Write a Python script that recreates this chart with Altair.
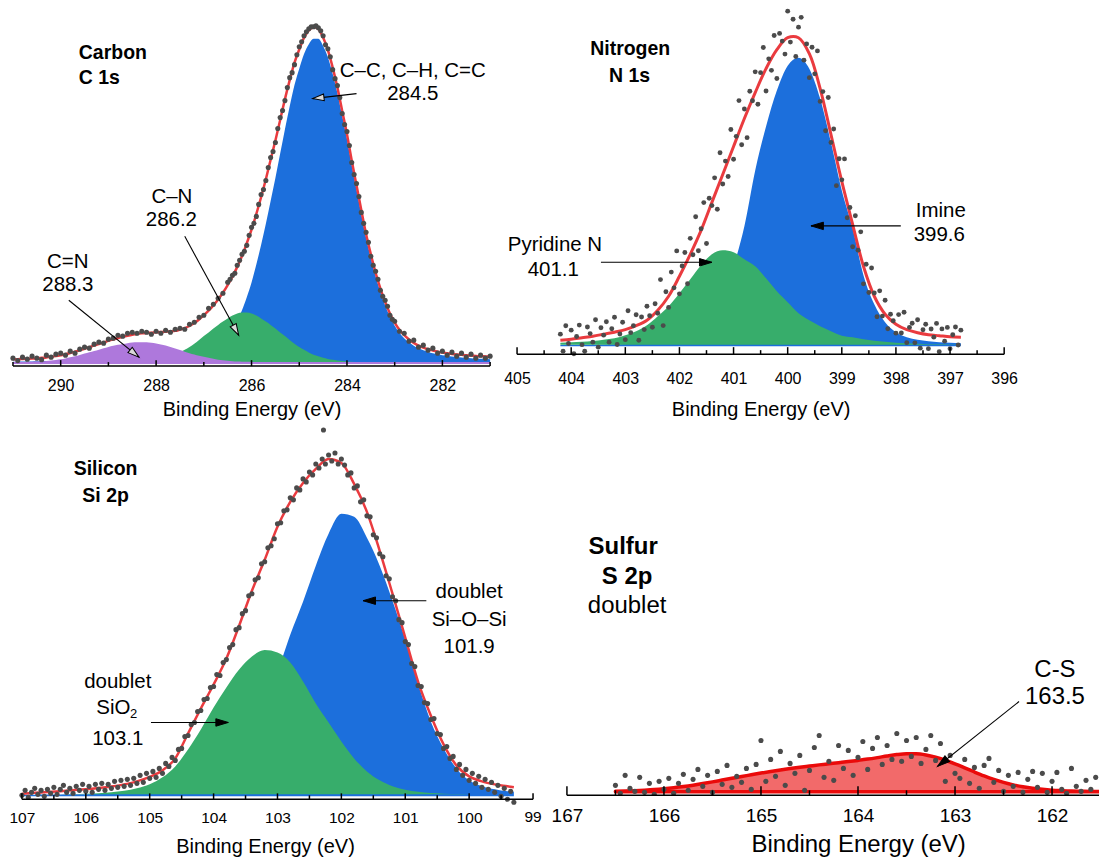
import math
import altair as alt
import pandas as pd

FONT = "Liberation Sans"
BLUE = "#1c6fdc"
GREEN = "#37ad6b"
PURPLE = "#ae78dc"
RED = "#ea3b3f"
DOT = "#4b4b4b"
S_FILL = "#f26a6a"
S_LINE = "#ea0a0a"

# ---------------- Carbon C 1s ----------------
C_E = [291.0, 290.9, 290.8, 290.7, 290.6, 290.5, 290.4, 290.3, 290.2, 290.1,
       290.0, 289.9, 289.8, 289.7, 289.6, 289.5, 289.4, 289.3, 289.2, 289.1,
       289.0, 288.9, 288.8, 288.7, 288.6, 288.5, 288.4, 288.3, 288.2, 288.1,
       288.0, 287.9, 287.8, 287.7, 287.6, 287.5, 287.4, 287.3, 287.2, 287.1,
       287.0, 286.9, 286.8, 286.7, 286.6, 286.5, 286.4, 286.3, 286.2, 286.1,
       286.0, 285.9, 285.8, 285.7, 285.6, 285.5, 285.4, 285.3, 285.2, 285.1,
       285.0, 284.9, 284.8, 284.7, 284.6, 284.5, 284.4, 284.3, 284.2, 284.1,
       284.0, 283.9, 283.8, 283.7, 283.6, 283.5, 283.4, 283.3, 283.2, 283.1,
       283.0, 282.9, 282.8, 282.7, 282.6, 282.5, 282.4, 282.3, 282.2, 282.1,
       282.0, 281.9, 281.8, 281.7, 281.6, 281.5, 281.4, 281.3, 281.2, 281.1,
       281.0]
C_BLUE = [4.3, 4.4, 4.5, 4.6, 4.7, 4.8, 4.9, 5.0, 5.1, 5.2,
          5.3, 5.4, 5.5, 5.7, 5.8, 5.9, 6.1, 6.2, 6.4, 6.5,
          6.7, 6.9, 7.1, 7.3, 7.5, 7.7, 7.9, 8.1, 8.3, 8.6,
          8.9, 9.2, 9.5, 9.9, 10.3, 10.8, 11.3, 12.0, 13.0, 14.1,
          15.6, 17.5, 20.0, 23.0, 27.0, 32.1, 38.0, 46.1, 56.0, 69.0,
          83.8, 101.7, 121.4, 142.6, 165.5, 188.4, 212.9, 237.4, 260.3, 281.6,
          298.0, 312.7, 322.5, 328.0, 328.0, 320.8, 309.4, 293.0, 273.4, 250.5,
          227.6, 201.5, 177.0, 152.4, 128.5, 108.5, 90.0, 74.5, 61.0, 49.5,
          40.5, 33.4, 28.0, 23.8, 20.4, 17.8, 15.8, 14.2, 12.9, 11.8,
          10.9, 10.2, 9.6, 9.1, 8.7, 8.3, 8.0, 7.7, 7.4, 7.2,
          7.0]
C_GREEN = [2.5, 2.5, 2.6, 2.6, 2.6, 2.6, 2.7, 2.7, 2.7, 2.7,
           2.8, 2.8, 2.8, 2.9, 2.9, 2.95, 3.0, 3.1, 3.2, 3.3,
           3.4, 3.5, 3.6, 3.8, 3.9, 4.1, 4.4, 4.7, 5.1, 5.6,
           6.3, 7.2, 8.3, 9.8, 11.4, 13.7, 16.3, 19.2, 22.5, 26.2,
           30.1, 33.7, 37.6, 41.3, 44.6, 47.8, 50.6, 52.7, 53.8, 53.8,
           52.7, 50.6, 47.8, 44.6, 41.3, 37.6, 33.7, 30.1, 26.2, 22.5,
           19.2, 16.3, 13.7, 11.4, 9.8, 8.3, 7.2, 6.3, 5.6, 5.1,
           4.7, 4.4, 4.1, 3.9, 3.8, 3.6, 3.5, 3.4, 3.3, 3.2,
           3.1, 3.0, 2.95, 2.9, 2.9, 2.8, 2.8, 2.8, 2.7, 2.7,
           2.7, 2.7, 2.6, 2.6, 2.6, 2.6, 2.6, 2.5, 2.5, 2.5,
           2.5]
C_PURPLE = [4.0, 4.0, 4.1, 4.2, 4.3, 4.5, 4.7, 5.0, 5.5, 6.1,
            6.8, 7.7, 8.8, 9.9, 11.2, 12.6, 13.9, 15.2, 16.5, 17.8,
            19.2, 20.3, 21.4, 22.2, 23.0, 23.6, 23.9, 24.0, 23.8, 23.3,
            22.6, 21.7, 20.7, 19.2, 17.6, 16.1, 14.5, 13.0, 11.7, 10.4,
            9.3, 8.3, 7.3, 6.5, 5.9, 5.3, 4.9, 4.6, 4.4, 4.3,
            4.2, 4.1, 4.0, 4.0, 4.0, 4.0, 4.0, 4.0, 4.0, 4.0,
            4.0, 4.0, 4.0, 4.0, 4.0, 4.0, 4.0, 4.0, 4.0, 4.0,
            4.0, 4.0, 4.0, 4.0, 4.0, 4.0, 4.0, 4.0, 4.0, 4.0,
            4.0, 4.0, 4.0, 4.0, 4.0, 4.0, 4.0, 4.0, 4.0, 4.0,
            4.0, 4.0, 4.0, 4.0, 4.0, 4.0, 4.0, 4.0, 4.0, 4.0,
            4.0]
C_ENV = [6.8, 6.9, 7.2, 7.4, 7.6, 7.9, 8.3, 8.7, 9.3, 10.0,
         10.9, 11.9, 13.1, 14.5, 15.9, 17.45, 19.0, 20.5, 22.1, 23.6,
         25.3, 26.7, 28.1, 29.3, 30.4, 31.4, 32.2, 32.8, 33.2, 33.5,
         33.8, 34.1, 34.5, 34.9, 35.3, 36.6, 38.1, 40.2, 43.2, 46.7,
         51.0, 55.5, 60.9, 66.8, 73.5, 81.2, 89.5, 99.4, 110.2, 123.1,
         136.7, 152.4, 169.2, 187.2, 206.8, 226.0, 246.6, 267.5, 286.5, 304.1,
         317.2, 329.0, 336.2, 339.4, 337.8, 329.1, 316.6, 299.3, 279.0, 255.6,
         232.3, 205.9, 181.1, 156.3, 132.3, 112.1, 93.5, 77.9, 64.3, 52.7,
         43.6, 36.4, 30.95, 26.7, 23.3, 20.6, 18.6, 17.0, 15.6, 14.5,
         13.6, 12.9, 12.2, 11.7, 11.3, 10.9, 10.6, 10.2, 9.9, 9.7,
         9.5]
C_DOTS = [8, 5.5, 9, 7, 10, 8, 6.5, 11, 9, 12,
          13, 11, 15, 13, 17, 19, 18, 22, 24, 23,
          27, 28, 31, 30, 33, 34, 33, 35, 34, 32,
          35, 33, 36, 34, 37, 38, 37, 42, 44, 49,
          51, 58, 62, 68, 73, 84, 91, 101, 112, 121,
          139, 150, 172, 186, 209, 224, 249, 266, 289, 302,
          320, 331, 338, 340, 339, 331, 318, 297, 281, 253,
          235, 204, 183, 154, 134, 110, 95, 76, 66, 51,
          45, 35, 33, 25, 26, 19, 21, 16, 18, 13,
          15, 11, 14, 10, 13, 9, 12, 8, 11, 8,
          10]
C_MID_E = [286.45, 286.35, 286.25, 286.15, 286.05, 285.95, 285.85, 285.75, 285.65, 285.55,
           285.45, 285.35, 285.25, 285.15, 285.05, 284.95, 284.85, 284.75, 284.65, 284.55,
           284.45, 284.35, 284.25, 284.15, 284.05, 283.95, 283.85, 283.75, 283.65, 283.55,
           283.45, 283.35, 283.25, 283.15, 283.05]
C_MID_I = [87, 93, 106, 115, 131, 143, 162, 177, 199, 215,
           238, 256, 279, 294, 312, 325, 335, 340, 341, 336,
           322, 310, 288, 269, 242, 221, 192, 170, 143, 124,
           101, 87, 70, 60, 47]

# ---------------- Nitrogen N 1s ----------------
N_E = [404.2, 404.0, 403.8, 403.6, 403.4, 403.2, 403.0, 402.8, 402.6, 402.4,
       402.2, 402.0, 401.8, 401.6, 401.4, 401.2, 401.0, 400.8, 400.6, 400.4,
       400.2, 400.0, 399.8, 399.6, 399.4, 399.2, 399.0, 398.8, 398.6, 398.4,
       398.2, 398.0, 397.8, 397.6, 397.4, 397.2, 397.0, 396.8]
N_ENV = [14, 15, 16.5, 18, 20, 22, 24.5, 28.5, 34, 44,
         58, 78, 100, 124, 152, 180, 208, 236, 262, 286,
         305, 317, 317, 301, 266, 220, 173, 130, 88, 58,
         40, 30, 24.5, 21.5, 19.5, 18.5, 17.5, 17]
N_IMINE = [9.2, 9.3, 9.4, 9.5, 9.7, 9.9, 10.2, 10.6, 11.2, 12,
           13.5, 16, 20, 27, 38, 58, 88, 128, 184, 228,
           264, 289, 297, 286, 256, 212, 164, 126, 79, 50,
           32, 22, 17, 14.5, 13, 12, 11.5, 11]
N_PYR = [11.5, 12, 12.5, 13.2, 14.5, 16, 19, 23, 29, 38,
         48, 61, 75, 89, 100, 104, 102, 95, 88, 76,
         63, 52, 41, 34, 28, 23, 18.5, 17, 15, 13.5,
         12.5, 11.5, 11, 10.5, 10, 9.8, 9.6, 9.5]
N_DOT_E = [404.2, 404.15, 404.1, 404.05, 404.0, 403.95, 403.9, 403.85, 403.8, 403.75,
           403.7, 403.65, 403.6, 403.55, 403.5, 403.45, 403.4, 403.35, 403.3, 403.25,
           403.2, 403.15, 403.1, 403.05, 403.0, 402.95, 402.9, 402.85, 402.8, 402.75,
           402.7, 402.65, 402.6, 402.55, 402.5, 402.45, 402.4, 402.35, 402.3, 402.25,
           402.2, 402.15, 402.1, 402.05, 402.0, 401.95, 401.9, 401.85, 401.8, 401.75,
           401.7, 401.65, 401.6, 401.55, 401.5, 401.45, 401.4, 401.35, 401.3, 401.25,
           401.2, 401.15, 401.1, 401.05, 401.0, 400.95, 400.9, 400.85, 400.8, 400.75,
           400.7, 400.65, 400.6, 400.55, 400.5, 400.45, 400.4, 400.35, 400.3, 400.25,
           400.2, 400.15, 400.1, 400.05, 400.0, 399.95, 399.9, 399.85, 399.8, 399.75,
           399.7, 399.65, 399.6, 399.55, 399.5, 399.45, 399.4, 399.35, 399.3, 399.25,
           399.2, 399.15, 399.1, 399.05, 399.0, 398.95, 398.9, 398.85, 398.8, 398.75,
           398.7, 398.65, 398.6, 398.55, 398.5, 398.45, 398.4, 398.35, 398.3, 398.25,
           398.2, 398.15, 398.1, 398.05, 398.0, 397.95, 397.9, 397.85, 397.8, 397.75,
           397.7, 397.65, 397.6, 397.55, 397.5, 397.45, 397.4, 397.35, 397.3, 397.25,
           397.2, 397.15, 397.1, 397.05, 397.0, 396.95, 396.9, 396.85, 396.8]
N_DOT_I = [20, 3, 28.5, 10.7, 24, 0.4, 17.7, 29.1, 9.5, 2.9,
           27.2, 20.6, 12, 34.5, 7, 26.5, 19, 32.5, 12, 25.5,
           37, 9.6, 20.2, 31.9, 14.5, 43.5, 21.5, 28.5, 39.5, 13.9,
           37.2, 24.6, 48, 38.5, 27, 50.5, 41, 74.7, 28.6, 62.5,
           46.8, 82.2, 66.4, 103.4, 60.4, 88.3, 101.8, 70.5, 116, 99.6,
           137.6, 103.6, 125.6, 151.8, 110.8, 156.2, 148.8, 176.6, 145.2, 201.8,
           170.4, 193.4, 178, 225, 195.2, 218.2, 254, 209.8, 245.6, 216.9,
           263.4, 253.9, 282.8, 250.4, 282, 307.2, 263.6, 295.8, 284.3, 319.2,
           276.2, 321.3, 313.6, 300.6, 343.6, 312.6, 335.5, 298.2, 327.6, 337.4,
           294.5, 310.8, 277, 307.4, 280.8, 303.8, 253.2, 263, 223.8, 257.1,
           212, 225.6, 168.8, 195.7, 174.6, 195.6, 136.6, 146.9, 107.6, 138.7,
           104.2, 122.5, 70.4, 90.1, 61.8, 86.3, 61.2, 37.5, 63.4, 38.1,
           54, 25.5, 40, 33.5, 21, 39.6, 21.2, 41.9, 11.5, 26.8,
           31, 11.3, 34.5, 6, 24.5, 30, 5.5, 25.2, 17, 30.8,
           2.5, 25.3, 13, 26.8, 5.5, 19.4, 27.2, 9.1, 24]

# ---------------- Silicon Si 2p ----------------
SI_E = [107.0, 106.8, 106.6, 106.4, 106.2, 106.0, 105.8, 105.6, 105.4, 105.2,
        105.0, 104.8, 104.6, 104.4, 104.2, 104.0, 103.8, 103.6, 103.4, 103.2,
        103.0, 102.8, 102.6, 102.4, 102.2, 102.0, 101.8, 101.6, 101.4, 101.2,
        101.0, 100.8, 100.6, 100.4, 100.2, 100.0, 99.8, 99.6, 99.4, 99.3]
SI_ENV = [5.6, 6.5, 7.3, 8.2, 9.2, 10.2, 11.3, 12.8, 15, 18,
          22.5, 29, 41, 66, 91, 115, 141, 174, 209, 240,
          273, 298, 317, 331, 341, 337, 316, 288, 249, 206,
          162, 118, 84, 55, 34, 23, 18, 15, 13, 12]
SI_SIOSI = [4.6, 4.7, 4.8, 4.9, 5.0, 5.1, 5.3, 5.5, 5.8, 6.1,
            6.5, 7.2, 8.5, 11, 16, 23, 35, 52, 74, 100,
            128, 165, 198, 234, 266, 286, 283, 262, 234, 199,
            160, 116, 78, 51, 31, 19, 13, 10, 8, 7.5]
SI_SIO2 = [5, 5, 5.1, 5.2, 5.4, 5.7, 6.2, 7, 8.5, 11,
           15, 22, 33, 50, 70, 92, 112, 130, 143, 149.5,
           147, 137, 118, 96, 77, 58, 41, 28, 19, 13,
           9.5, 7.5, 6.3, 5.7, 5.3, 5.1, 5, 5, 5, 5]
SI_DOT_E = [107.0, 106.95, 106.9, 106.85, 106.8, 106.75, 106.7, 106.65, 106.6, 106.55,
            106.5, 106.45, 106.4, 106.35, 106.3, 106.25, 106.2, 106.15, 106.1, 106.05,
            106.0, 105.95, 105.9, 105.85, 105.8, 105.75, 105.7, 105.65, 105.6, 105.55,
            105.5, 105.45, 105.4, 105.35, 105.3, 105.25, 105.2, 105.15, 105.1, 105.05,
            105.0, 104.95, 104.9, 104.85, 104.8, 104.75, 104.7, 104.65, 104.6, 104.55,
            104.5, 104.45, 104.4, 104.35, 104.3, 104.25, 104.2, 104.15, 104.1, 104.05,
            104.0, 103.95, 103.9, 103.85, 103.8, 103.75, 103.7, 103.65, 103.6, 103.55,
            103.5, 103.45, 103.4, 103.35, 103.3, 103.25, 103.2, 103.15, 103.1, 103.05,
            103.0, 102.95, 102.9, 102.85, 102.8, 102.75, 102.7, 102.65, 102.6, 102.55,
            102.5, 102.45, 102.4, 102.35, 102.3, 102.25, 102.2, 102.15, 102.1, 102.05,
            102.0, 101.95, 101.9, 101.85, 101.8, 101.75, 101.7, 101.65, 101.6, 101.55,
            101.5, 101.45, 101.4, 101.35, 101.3, 101.25, 101.2, 101.15, 101.1, 101.05,
            101.0, 100.95, 100.9, 100.85, 100.8, 100.75, 100.7, 100.65, 100.6, 100.55,
            100.5, 100.45, 100.4, 100.35, 100.3, 100.25, 100.2, 100.15, 100.1, 100.05,
            100.0, 99.95, 99.9, 99.85, 99.8, 99.75, 99.7, 99.65, 99.6, 99.55,
            99.5, 99.45, 99.4, 99.35, 99.3, 102.28]
SI_DOT_I = [4, 9, 2, 7, 11, 5, 9, 3, 10, 6,
            12, 5, 10, 14, 7, 11, 6, 13, 9, 15,
            8, 13, 7, 15, 10, 16, 9, 15, 11, 18,
            12, 19, 13, 20, 14, 21, 16, 24, 17, 26,
            21, 28, 22, 31, 26, 36, 33, 42, 39, 50,
            51, 63, 64, 75, 77, 88, 89, 100, 101, 112,
            113, 125, 124, 137, 140, 152, 155, 170, 172, 186,
            189, 204, 206, 220, 222, 236, 238, 252, 254, 261,
            276, 277, 289, 290, 302, 300, 312, 310, 321, 318,
            328, 325, 336, 332, 341, 336, 345, 339, 347, 336,
            341, 335, 325, 327, 312, 314, 298, 300, 284, 283,
            265, 262, 246, 243, 224, 221, 203, 199, 180, 177,
            158, 155, 136, 133, 114, 113, 97, 96, 80, 81,
            66, 65, 51, 53, 41, 43, 30, 35, 24, 30,
            19, 26, 16, 23, 12, 20, 10, 17, 7, 14,
            3, 11, 0, 8, -3, 370]

# ---------------- Sulfur S 2p ----------------
S_E = [166.5, 166.4, 166.3, 166.2, 166.1, 166.0, 165.9, 165.8, 165.7, 165.6,
       165.5, 165.4, 165.3, 165.2, 165.1, 165.0, 164.9, 164.8, 164.7, 164.6,
       164.5, 164.4, 164.3, 164.2, 164.1, 164.0, 163.9, 163.8, 163.7, 163.6,
       163.5, 163.4, 163.3, 163.2, 163.1, 163.0, 162.9, 162.8, 162.7, 162.6,
       162.5, 162.4, 162.3, 162.2, 162.1, 162.0, 161.9, 161.8, 161.7, 161.6,
       161.5]
S_ENV = [4.0, 4.3, 4.7, 5.2, 5.8, 6.6, 7.6, 8.8, 10.2, 11.8,
         13.5, 15.3, 17.1, 18.9, 20.6, 22.3, 23.9, 25.4, 26.8, 28.1,
         29.3, 30.5, 31.6, 32.7, 33.8, 35.0, 36.3, 37.8, 39.4, 40.8,
         41.6, 41.6, 40.5, 38.3, 35.2, 31.5, 27.5, 23.4, 19.5, 16.0,
         13.0, 10.5, 8.6, 7.1, 6.0, 5.2, 4.7, 4.3, 4.1, 3.9,
         3.8]
S_DOT_E = [166.5, 166.45, 166.4, 166.35, 166.3, 166.25, 166.2, 166.15, 166.1, 166.05,
           166.0, 165.95, 165.9, 165.85, 165.8, 165.75, 165.7, 165.65, 165.6, 165.55,
           165.5, 165.45, 165.4, 165.35, 165.3, 165.25, 165.2, 165.15, 165.1, 165.05,
           165.0, 164.95, 164.9, 164.85, 164.8, 164.75, 164.7, 164.65, 164.6, 164.55,
           164.5, 164.45, 164.4, 164.35, 164.3, 164.25, 164.2, 164.15, 164.1, 164.05,
           164.0, 163.95, 163.9, 163.85, 163.8, 163.75, 163.7, 163.65, 163.6, 163.55,
           163.5, 163.45, 163.4, 163.35, 163.3, 163.25, 163.2, 163.15, 163.1, 163.05,
           163.0, 162.95, 162.9, 162.85, 162.8, 162.75, 162.7, 162.65, 162.6, 162.55,
           162.5, 162.45, 162.4, 162.35, 162.3, 162.25, 162.2, 162.15, 162.1, 162.05,
           162.0, 161.95, 161.9, 161.85, 161.8, 161.75, 161.7, 161.65, 161.6, 161.55]
S_DOT_I = [10, 2, 20, 7, 4, 18, 3, 12, 1, 14,
           6, 17, 2, 12, 21, 5, 16, 26, 9, 20,
           3, 24, 11, 30, 8, 19, 13, 27, 6, 31,
           55, 14, 36, 19, 44, 10, 32, 22, 40, 5,
           25, 48, 60, 18, 34, 15, 50, 27, 45, 20,
           38, 54, 26, 47, 58, 31, 50, 36, 62, 34,
           55, 39, 58, 32, 46, 60, 35, 52, 14, 40,
           22, 17, 36, 12, 28, 7, 30, 37, 13, 25,
           4, 20, 9, 23, 3, 16, 24, 8, 22, 3,
           14, 23, 6, 2, 27, 9, 4, 15, 6, 18]

# ---------------- annotations (energy, intensity) ----------------
C_TITLE = [("Carbon", 289.62, 314), ("C 1s", 289.62, 289)]
C_TEXT = [("C\u2013C, C\u2013H, C=C", 282.62, 296), ("284.5", 282.62, 273),
          ("C\u2013N", 287.67, 169), ("286.2", 287.68, 146),
          ("C=N", 289.85, 104), ("288.3", 289.85, 81)]
C_ARROWS = [(283.80, 273, 284.72, 268), (287.40, 130, 286.27, 31), (289.83, 66, 288.36, 9)]

N_TITLE = [("Nitrogen", 402.91, 306), ("N 1s", 402.92, 279)]
N_TEXT = [("Imine", 397.17, 143), ("399.6", 397.2, 119),
          ("Pyridine N", 404.30, 109.6), ("401.1", 404.33, 84.4)]
N_ARROWS = [(397.91, 128.5, 399.57, 128.5), (403.45, 92, 401.40, 92)]

SI_TITLE = [("Silicon", 105.69, 331), ("Si 2p", 105.69, 304)]
SI_TEXT = [("doublet", 100.0, 208), ("Si\u2013O\u2013Si", 100.0, 180), ("101.9", 100.0, 153),
           ("doublet", 105.5, 118), ("SiO", 105.57, 91), ("103.1", 105.5, 60)]
SI_SUB = [("2", 105.25, 85)]
SI_ARROWS = [(100.67, 199, 101.66, 199), (104.98, 77, 103.77, 77)]
SI_EDGE_LABEL = [("99", 99.0)]

S_TITLE = [("Sulfur", 166.42, 249), ("S 2p", 166.38, 219)]
S_TEXT = [("doublet", 166.38, 190), ("C-S", 161.97, 126), ("163.5", 161.97, 98)]
S_ARROWS = [(162.34, 94, 163.18, 29)]

ARROW_PATH = "M0,0L-0.3,1L0.3,1Z"


def tdf(rows):
    return pd.DataFrame({"t": [r[0] for r in rows], "E": [r[1] for r in rows], "v": [r[2] for r in rows]})


def panel(p):
    W, H = p["W"], p["H"]
    d0, d1 = p["domain"]
    xs = alt.Scale(domain=[d0, d1], nice=False, zero=False)
    ys = alt.Scale(domain=[0, H], nice=False, zero=False)
    clip = p.get("clip", False)

    ax_kw = dict(values=p["labels"], format="d", ticks=False, tickSize=0, domain=False,
                 grid=False, labelFont=FONT, labelFontSize=p["lfs"], labelColor="black",
                 labelPadding=p["lpad"], labelFlush=False, labelOverlap=False,
                 title="Binding Energy (eV)", titleFont=FONT, titleFontSize=p["tfs"],
                 titleFontWeight="normal", titleColor="black",
                 titleBaseline="alphabetic", titleY=p["ty"])
    if "tx" in p:
        ax_kw["titleX"] = p["tx"]
        ax_kw["titleAlign"] = "center"
    axis = alt.Axis(**ax_kw)

    def X():
        return alt.X("E:Q", scale=xs, axis=axis)

    Y = alt.Y("v:Q", scale=ys, axis=None)

    layers = []
    for vals, col, base, E in p["areas"]:
        df = pd.DataFrame({"E": E, "v": vals, "b": [base] * len(E)})
        layers.append(alt.Chart(df).mark_area(color=col, opacity=1, interpolate="monotone", clip=clip)
                      .encode(x=X(), y=Y, y2="b:Q"))
    if "sarea" in p:
        E, vals, base = p["sarea"]
        df = pd.DataFrame({"E": E, "v": vals, "b": [base] * len(E)})
        layers.append(alt.Chart(df).mark_area(fill=S_FILL, stroke=S_LINE, strokeWidth=3.5,
                                              strokeJoin="round", interpolate="monotone", clip=True)
                      .encode(x=X(), y=Y, y2="b:Q"))
    if "env" in p:
        E, vals = p["env"]
        df = pd.DataFrame({"E": E, "v": vals})
        layers.append(alt.Chart(df).mark_line(color=RED, strokeWidth=p.get("envw", 2.5),
                                              interpolate=p.get("envi", "monotone"), clip=clip)
                      .encode(x=X(), y=Y))
    for E, vals in p["dots"]:
        df = pd.DataFrame({"E": E[:len(vals)], "v": vals[:len(E)]})
        layers.append(alt.Chart(df).mark_circle(color=DOT, size=p["dsize"], opacity=1, clip=clip)
                      .encode(x=X(), y=Y))
    # axis baseline from first to last tick
    a0, a1 = p["axis_span"]
    layers.append(alt.Chart(pd.DataFrame({"E": [a0], "E2": [a1]})).mark_rule(color="black", strokeWidth=1.5)
                  .encode(x=X(), x2="E2:Q", y=alt.value(H)))
    # ticks pointing inward
    maj = pd.DataFrame({"E": p["major"]})
    mino = pd.DataFrame({"E": p["minor"]})
    layers.append(alt.Chart(maj).mark_rule(color="black", strokeWidth=1.5)
                  .encode(x=X(), y=alt.value(H), y2=alt.value(H - p["mlen"])))
    layers.append(alt.Chart(mino).mark_rule(color="black", strokeWidth=1.5)
                  .encode(x=X(), y=alt.value(H), y2=alt.value(H - p["nlen"])))
    # tick label that sits just past the plotted range
    if p.get("edge_labels"):
        el = pd.DataFrame({"t": [r[0] for r in p["edge_labels"]], "E": [r[1] for r in p["edge_labels"]]})
        layers.append(alt.Chart(el).mark_text(font=FONT, fontSize=p["lfs"], align="center",
                                              baseline="top", color="black")
                      .encode(x=X(), y=alt.value(H + p["lpad"]), text="t:N"))
    # titles and labels
    for rows, fs, fw, al in p["texts"]:
        layers.append(alt.Chart(tdf(rows)).mark_text(font=FONT, fontSize=fs, fontWeight=fw, align=al,
                                                     baseline="middle", color="black")
                      .encode(x=X(), y=Y, text="t:N"))
    # arrows
    kx = W / abs(d0 - d1)
    arr = p["arrows"]
    adf = pd.DataFrame({"E": [a[0] for a in arr], "v": [a[1] for a in arr],
                        "E2": [a[2] for a in arr], "v2": [a[3] for a in arr]})
    layers.append(alt.Chart(adf).mark_rule(color="black", strokeWidth=1.1)
                  .encode(x=X(), y=Y, x2="E2:Q", y2="v2:Q"))
    ang = []
    for e1, v1, e2, v2 in arr:
        dx = -(e2 - e1) * kx
        dy = -(v2 - v1)
        ang.append(math.degrees(math.atan2(dx, -dy)) % 360)
    hdf = pd.DataFrame({"E": adf["E2"], "v": adf["v2"], "ang": ang})
    layers.append(alt.Chart(hdf).mark_point(shape=ARROW_PATH, size=p["hsize"], filled=True,
                                            fill=p["hfill"], stroke="black", strokeWidth=1, opacity=1)
                  .encode(x=X(), y=Y, angle=alt.Angle("ang:Q", scale=None)))
    return alt.layer(*layers).properties(width=W, height=H)


carbon = panel(dict(
    W=478, H=366, domain=(291, 281), axis_span=(291, 281),
    areas=[(C_BLUE, BLUE, 2, C_E), (C_GREEN, GREEN, 2, C_E), (C_PURPLE, PURPLE, 2, C_E)],
    env=(C_E, C_ENV), envw=2.5,
    dots=[(C_E, C_DOTS), (C_MID_E, C_MID_I)], dsize=26,
    labels=[290, 288, 286, 284, 282], major=[290, 288, 286, 284, 282],
    minor=[291, 289, 287, 285, 283, 281], mlen=6, nlen=4,
    lfs=16, lpad=11, tfs=20, ty=49.5,
    texts=[(C_TITLE, 19.5, "bold", "left"), (C_TEXT, 20.5, "normal", "center")],
    arrows=C_ARROWS, hsize=520, hfill="#d9d9d9"))

nitrogen = panel(dict(
    W=488, H=354, domain=(405, 396), axis_span=(405, 396),
    areas=[(N_IMINE, BLUE, 8, N_E), (N_PYR, GREEN, 9.5, N_E)],
    env=(N_E, N_ENV), envw=3, envi="catmull-rom",
    dots=[(N_DOT_E, N_DOT_I)], dsize=24,
    labels=[405, 404, 403, 402, 401, 400, 399, 398, 397, 396],
    major=[405, 404, 403, 402, 401, 400, 399, 398, 397, 396],
    minor=[404.5, 403.5, 402.5, 401.5, 400.5, 399.5, 398.5, 397.5, 396.5], mlen=7, nlen=4,
    lfs=16, lpad=16, tfs=20, ty=61.5,
    texts=[(N_TITLE, 19.5, "bold", "center"), (N_TEXT, 20.5, "normal", "center")],
    arrows=N_ARROWS, hsize=620, hfill="black"))

silicon = panel(dict(
    W=505, H=380, domain=(107.14, 99.25), axis_span=(107, 99),
    areas=[(SI_SIOSI, BLUE, 3, SI_E), (SI_SIO2, GREEN, 5, SI_E)],
    env=(SI_E, SI_ENV), envw=2.5,
    dots=[(SI_DOT_E, SI_DOT_I)], dsize=26,
    labels=[107, 106, 105, 104, 103, 102, 101, 100],
    edge_labels=SI_EDGE_LABEL,
    major=[107, 106, 105, 104, 103, 102, 101, 100, 99],
    minor=[106.5, 105.5, 104.5, 103.5, 102.5, 101.5, 100.5, 99.5], mlen=6, nlen=4,
    lfs=15.5, lpad=11, tfs=20, ty=53.5,
    texts=[(SI_TITLE, 19.5, "bold", "center"), (SI_TEXT, 20.5, "normal", "center"),
           (SI_SUB, 13, "normal", "center")],
    arrows=SI_ARROWS, hsize=620, hfill="black"))

sulfur = panel(dict(
    W=583, H=376, domain=(167.514, 161.516), axis_span=(167, 161.516), clip=True,
    areas=[], sarea=(S_E, S_ENV, 3.6),
    dots=[(S_DOT_E, S_DOT_I)], dsize=26,
    labels=[167, 166, 165, 164, 163, 162], major=[167, 166, 165, 164, 163, 162],
    minor=[166.5, 165.5, 164.5, 163.5, 162.5], mlen=9, nlen=5,
    lfs=19, lpad=11, tfs=24, ty=56.5, tx=341.7,
    texts=[(S_TITLE, 24, "bold", "center"), (S_TEXT, 24, "normal", "center")],
    arrows=S_ARROWS, hsize=620, hfill="black"))

chart = alt.concat(
    carbon, nitrogen, silicon, sulfur,
    columns=2,
    align="each",
    bounds="flush",
    spacing={"row": 54, "column": 0},
).properties(
    padding={"left": 8, "top": 0, "right": 0, "bottom": 0},
    background="white",
).configure_view(stroke=None)

chart.save("out.html", embed_options={"renderer": "svg", "actions": False})
